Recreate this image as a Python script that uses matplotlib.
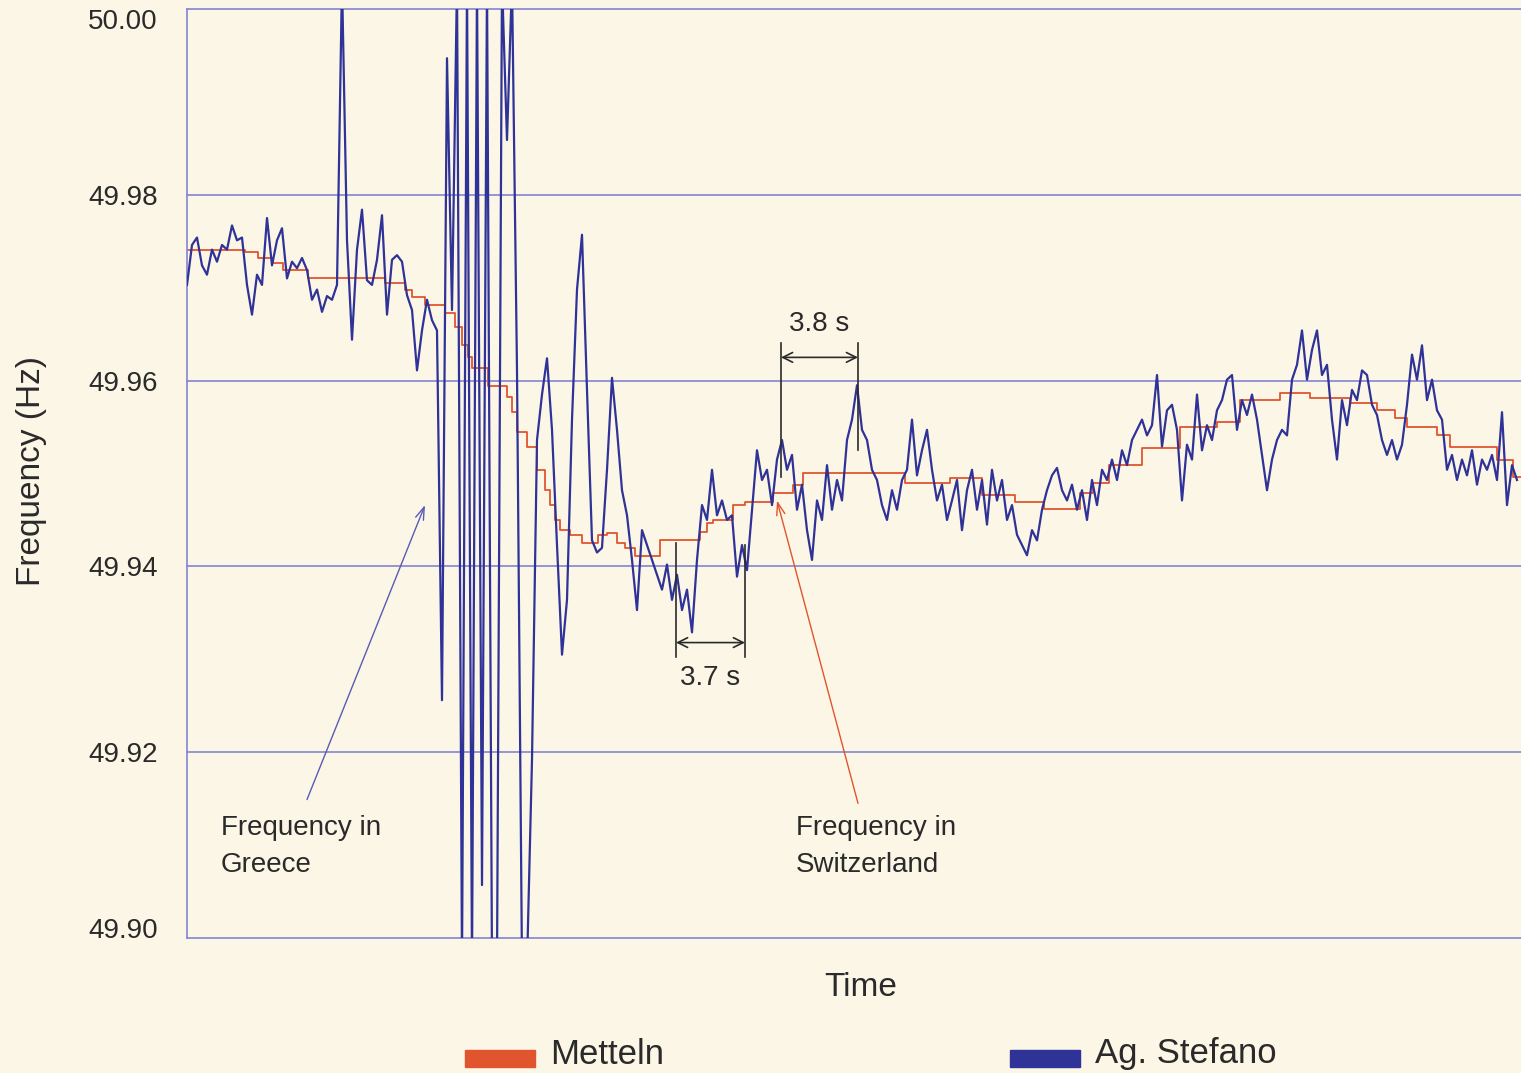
import numpy as np
import matplotlib as mpl
mpl.use('Agg')
import matplotlib.pyplot as plt
from matplotlib.patches import Rectangle

plt.rcParams['font.family'] = ['Liberation Sans', 'DejaVu Sans']
#
#--- Ag. Stefano (Greece) frequency [Hz], one reading every 0.25 s
#
stefano_hz = [
    49.9703, 49.9746, 49.9754, 49.9724, 49.9714, 49.9741, 49.9728, 49.9746, 49.9741, 49.9767,
    49.9751, 49.9754, 49.9703, 49.9671, 49.9714, 49.9703, 49.9775, 49.9724, 49.9751, 49.9764,
    49.9710, 49.9728, 49.9721, 49.9732, 49.9719, 49.9687, 49.9698, 49.9674, 49.9691, 49.9687,
    49.9703, 50.0030, 49.9751, 49.9644, 49.9741, 49.9784, 49.9708, 49.9703, 49.9730, 49.9778,
    49.9671, 49.9730, 49.9735, 49.9728, 49.9692, 49.9676, 49.9611, 49.9654, 49.9687, 49.9665,
    49.9654, 49.9256, 49.9947, 49.9676, 50.0030, 49.8970, 50.0030, 49.8970, 50.0030, 49.9057,
    50.0030, 49.8970, 49.8970, 50.0030, 49.9859, 50.0030, 49.9611, 49.8970, 49.8970, 49.9192,
    49.9536, 49.9585, 49.9624, 49.9547, 49.9423, 49.9305, 49.9364, 49.9558, 49.9698, 49.9757,
    49.9590, 49.9428, 49.9415, 49.9420, 49.9504, 49.9603, 49.9547, 49.9482, 49.9455, 49.9407,
    49.9353, 49.9439, 49.9423, 49.9407, 49.9391, 49.9375, 49.9402, 49.9364, 49.9391, 49.9353,
    49.9375, 49.9329, 49.9407, 49.9466, 49.9450, 49.9504, 49.9455, 49.9471, 49.9450, 49.9455,
    49.9389, 49.9423, 49.9396, 49.9461, 49.9525, 49.9493, 49.9504, 49.9466, 49.9515, 49.9536,
    49.9504, 49.9520, 49.9461, 49.9488, 49.9439, 49.9407, 49.9471, 49.9450, 49.9509, 49.9461,
    49.9493, 49.9471, 49.9536, 49.9558, 49.9595, 49.9547, 49.9536, 49.9504, 49.9493, 49.9466,
    49.9450, 49.9482, 49.9461, 49.9493, 49.9504, 49.9558, 49.9498, 49.9525, 49.9547, 49.9504,
    49.9471, 49.9488, 49.9450, 49.9471, 49.9493, 49.9439, 49.9482, 49.9504, 49.9461, 49.9493,
    49.9445, 49.9504, 49.9471, 49.9493, 49.9450, 49.9466, 49.9434, 49.9423, 49.9412, 49.9439,
    49.9428, 49.9461, 49.9482, 49.9498, 49.9506, 49.9482, 49.9471, 49.9488, 49.9461, 49.9482,
    49.9450, 49.9493, 49.9466, 49.9504, 49.9493, 49.9515, 49.9493, 49.9525, 49.9509, 49.9536,
    49.9547, 49.9558, 49.9541, 49.9552, 49.9606, 49.9529, 49.9568, 49.9574, 49.9547, 49.9471,
    49.9531, 49.9515, 49.9585, 49.9525, 49.9552, 49.9536, 49.9568, 49.9579, 49.9601, 49.9606,
    49.9547, 49.9579, 49.9563, 49.9585, 49.9558, 49.9520, 49.9482, 49.9515, 49.9536, 49.9547,
    49.9541, 49.9601, 49.9617, 49.9654, 49.9601, 49.9633, 49.9654, 49.9606, 49.9617, 49.9558,
    49.9515, 49.9579, 49.9552, 49.9590, 49.9579, 49.9611, 49.9606, 49.9574, 49.9563, 49.9536,
    49.9520, 49.9536, 49.9515, 49.9531, 49.9574, 49.9628, 49.9601, 49.9638, 49.9579, 49.9601,
    49.9568, 49.9558, 49.9504, 49.9520, 49.9493, 49.9515, 49.9498, 49.9525, 49.9488, 49.9515,
    49.9504, 49.9520, 49.9493, 49.9566, 49.9466, 49.9509, 49.9493,
]
stefano_dt = 0.25
#
#--- Metteln (Switzerland) frequency: time of each step [s] and level [Hz]
#
metteln_t = [0.00, 2.90, 3.55, 4.25, 4.80, 6.05, 9.90, 10.90, 11.25, 11.90,
             12.90, 13.40, 13.75, 14.05, 14.25, 15.05, 16.00, 16.25, 16.50, 17.00,
             17.50, 17.90, 18.15, 18.40, 18.65, 19.15, 19.75, 20.55, 21.00, 21.50,
             21.90, 22.40, 23.65, 25.65, 26.00, 26.30, 27.30, 27.90, 29.30, 30.30,
             30.80, 35.90, 38.15, 39.75, 41.40, 42.85, 44.65, 45.30, 46.10, 47.75,
             49.65, 51.50, 52.65, 54.65, 56.15, 58.15, 59.50, 60.40, 61.00, 62.50,
             63.15, 65.50, 66.30, 66.70]
metteln_hz = [49.9741, 49.9738, 49.9732, 49.9727, 49.9719, 49.9710, 49.9705, 49.9698, 49.9690, 49.9681,
              49.9673, 49.9658, 49.9638, 49.9625, 49.9614, 49.9594, 49.9582, 49.9566, 49.9545, 49.9529,
              49.9504, 49.9482, 49.9466, 49.9450, 49.9439, 49.9434, 49.9425, 49.9434, 49.9436, 49.9425,
              49.9420, 49.9411, 49.9428, 49.9437, 49.9447, 49.9450, 49.9466, 49.9469, 49.9479, 49.9488,
              49.9501, 49.9490, 49.9495, 49.9477, 49.9469, 49.9462, 49.9479, 49.9490, 49.9509, 49.9527,
              49.9550, 49.9555, 49.9579, 49.9587, 49.9581, 49.9576, 49.9568, 49.9560, 49.9550, 49.9541,
              49.9529, 49.9515, 49.9496, 49.9496]

ytick_vals   = [49.90, 49.92, 49.94, 49.96, 49.98, 50.00]
ytick_labels = ['49.90', '49.92', '49.94', '49.96', '49.98', '50.00']
series_names = ['Metteln', 'Ag. Stefano']
#
#--- colours
#
bg_col    = '#fcf6e7'
grid_col  = '#8585d2'
blue_col  = '#2f3296'
red_col   = '#e0552e'
text_col  = '#2a2a2a'
#
#--- figure and axes (pixel layout of the original 1521 x 1073 image)
#
W, H = 1521, 1073
fig = plt.figure(figsize=(W / 100, H / 100), dpi=100, facecolor=bg_col)
ax  = fig.add_axes([187 / W, 1 - 938 / H, 1 - 187 / W, (938 - 9) / H])
ax.set_facecolor(bg_col)

ax.set_xlim(0, 66.7)
ax.set_ylim(49.90, 50.00)
for side in ['top', 'right', 'bottom']:
    ax.spines[side].set_visible(False)
ax.spines['left'].set_color(grid_col)
ax.spines['left'].set_linewidth(1.2)

for v in ytick_vals:
    ax.axhline(v, color=grid_col, lw=1.2, zorder=1, clip_on=False)

ax.set_yticks(ytick_vals)
ax.set_yticklabels(ytick_labels)
ax.tick_params(axis='y', length=0, pad=21, labelsize=20, labelcolor=text_col)
ax.set_xticks([])
#
#--- end labels sit inside the frame
#
tlabels = ax.get_yticklabels()
tlabels[0].set_verticalalignment('baseline')
tlabels[-1].set_verticalalignment('top')
#
#--- data
#
stefano_t = np.arange(len(stefano_hz)) * stefano_dt
ax.step(metteln_t, metteln_hz, where='post', color=red_col, lw=1.3, zorder=2)
ax.plot(stefano_t, stefano_hz, color=blue_col, lw=1.6, zorder=3)
#
#--- interval brackets
#
def bracket(x1, x2, y1a, y2a, y1b, y2b, ya, label, ylab):
    ax.plot([x1, x1], [y1a, y2a], color=text_col, lw=1.2, zorder=4)
    ax.plot([x2, x2], [y1b, y2b], color=text_col, lw=1.2, zorder=4)
    ax.annotate('', xy=(x2, ya), xytext=(x1, ya),
                arrowprops=dict(arrowstyle='<->,head_length=0.7,head_width=0.35',
                                color=text_col, lw=1.2, shrinkA=0, shrinkB=0), zorder=4)
    ax.text((x1 + x2) / 2, ylab, label, ha='center', va='center',
            fontsize=20, color=text_col)

bracket(24.45, 27.90, 49.9425, 49.9302, 49.9423, 49.9302, 49.9318, '3.7 s', 49.9280)
bracket(29.70, 33.55, 49.9640, 49.9496, 49.9640, 49.9525, 49.9625, '3.8 s', 49.9661)
#
#--- pointers
#
ax.annotate('', xy=(11.9, 49.9466), xytext=(6.0, 49.9149),
            arrowprops=dict(arrowstyle='->,head_length=0.9,head_width=0.3',
                            color='#5a5ab6', lw=1.0, shrinkA=0, shrinkB=0))
ax.text(1.7, 49.9099, 'Frequency in\nGreece', ha='left', va='center',
        fontsize=20, color=text_col, linespacing=1.55)

ax.annotate('', xy=(29.5, 49.9471), xytext=(33.55, 49.9145),
            arrowprops=dict(arrowstyle='->,head_length=0.9,head_width=0.3',
                            color=red_col, lw=1.0, shrinkA=0, shrinkB=0))
ax.text(30.45, 49.9099, 'Frequency in\nSwitzerland', ha='left', va='center',
        fontsize=20, color=text_col, linespacing=1.55)
#
#--- axis titles
#
fig.text(32 / W, 1 - 471 / H, 'Frequency (Hz)', rotation=90, ha='center', va='center',
         fontsize=24, color=text_col)
fig.text(861 / W, 1 - 988 / H, 'Time', ha='center', va='center',
         fontsize=24, color=text_col)
#
#--- legend
#
leg_x = [465, 1010]
for x0, name, col in zip(leg_x, series_names, [red_col, blue_col]):
    fig.add_artist(Rectangle((x0 / W, 1 - 1067 / H), 70 / W, 17 / H,
                             transform=fig.transFigure, color=col))
    fig.text((x0 + 85) / W, 1 - 1054 / H, name, ha='left', va='center',
             fontsize=25, color=text_col)

fig.savefig('out.png', dpi=100, facecolor=bg_col)
